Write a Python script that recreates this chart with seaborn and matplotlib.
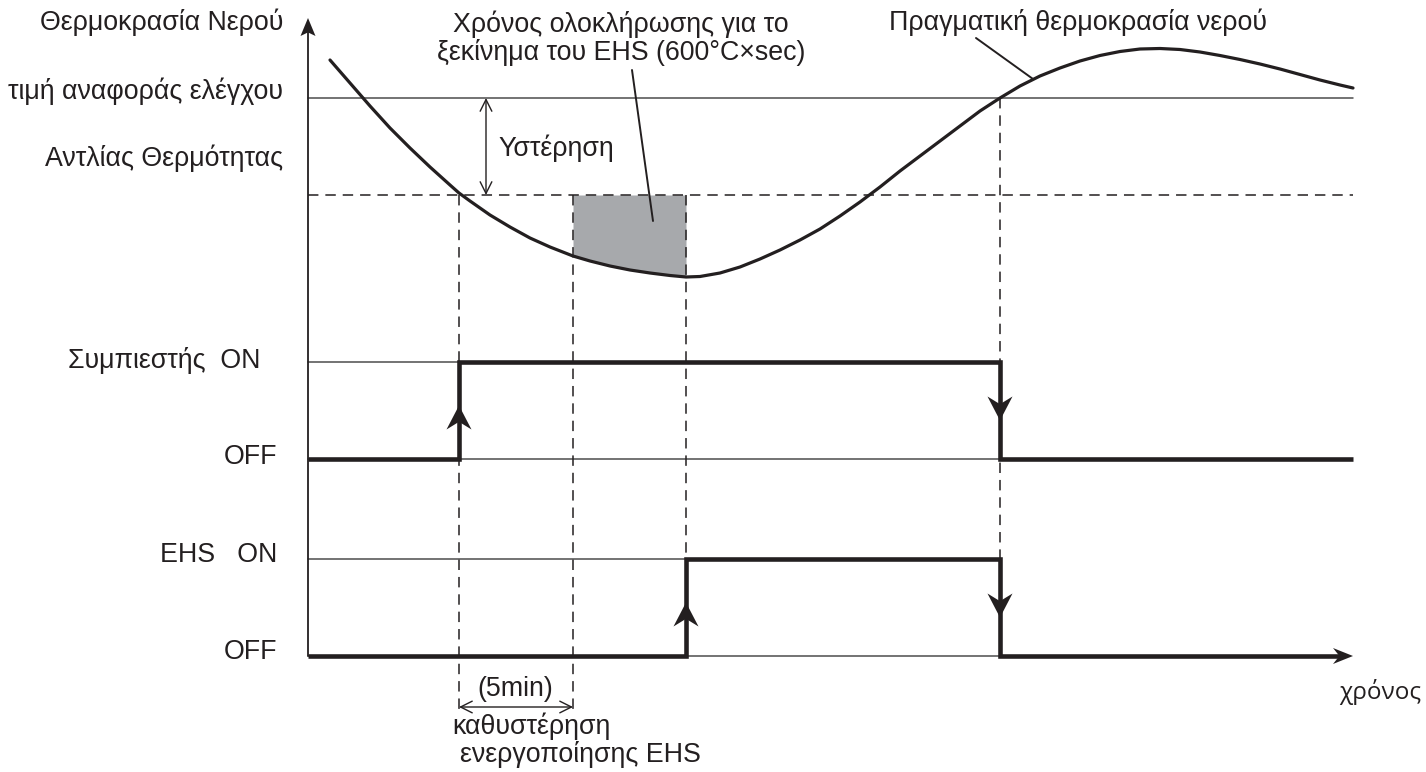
import numpy as np
import pandas as pd
import matplotlib
matplotlib.use("Agg")
import matplotlib.pyplot as plt
from matplotlib.patches import Polygon
import seaborn as sns

# ---------------------------------------------------------------
# Diagram data (drawing units: x = time position, y = vertical level,
# y grows downward)
# ---------------------------------------------------------------
# actual water temperature curve
curve_t = [330, 350, 370, 390, 410, 430, 450, 459, 470, 490, 510, 530, 550,
           573, 590, 610, 630, 650, 670, 686, 700, 720, 740, 760, 780, 800,
           820, 840, 860, 880, 900, 920, 940, 960, 980, 1000, 1020, 1040,
           1060, 1080, 1100, 1120, 1140, 1160, 1180, 1200, 1220, 1240, 1260,
           1280, 1300, 1320, 1340, 1353]
curve_temp = [60, 83, 106, 128, 148, 167, 185, 193, 201, 215, 227, 238, 247,
              256, 261, 266, 270, 273, 275.5, 277, 276.5, 273, 267, 259, 250,
              240, 229, 216, 202, 187, 171, 156, 141, 126, 111, 98, 86, 76,
              68, 61, 55.5, 51.5, 49, 48.5, 49.5, 52, 55.5, 59.5, 64, 69,
              74.5, 80, 85, 88]

axis_x = 308          # start of the time axis
axis_end = 1353       # end of the time axis
ref_level = 98        # heat pump control reference value
hyst_level = 195      # reference minus hysteresis

t_comp_on = 459       # compressor switches on
t_ehs_ready = 573     # end of the 5 min EHS delay
t_ehs_on = 686        # EHS switches on (600 °C·sec integral reached)
t_off = 1000          # both switch off

comp_levels = {"ON": 362, "OFF": 459}
ehs_levels = {"ON": 559, "OFF": 656}

comp_times = [axis_x, t_comp_on, t_off, axis_end]
comp_state = ["OFF", "ON", "OFF", "OFF"]
ehs_times = [axis_x, t_ehs_on, t_off, axis_end - 12]
ehs_state = ["OFF", "ON", "OFF", "OFF"]

left_labels = ["Θερμοκρασία Νερού", "τιμή αναφοράς ελέγχου", "Αντλίας Θερμότητας"]
left_label_y = [22, 91, 158]

# ---------------------------------------------------------------
sns.set_theme(style="white")
plt.rcParams["font.family"] = ["Liberation Sans", "DejaVu Sans"]
plt.rcParams["lines.scale_dashes"] = False

INK = "#231f20"
THIN = "#4d4d4d"
GREY_FILL = "#a7a9ac"
DASH = (0, (7.5, 5.0))
FS = 19.3

fig = plt.figure(figsize=(14.26, 7.72), dpi=100)
ax = fig.add_axes([0, 0, 1, 1])
ax.set_xlim(0, 1426)
ax.set_ylim(772, 0)
ax.axis("off")

curve = pd.DataFrame({"t": curve_t, "temp": curve_temp})

# shaded integral area between EHS delay end and EHS start
seg = curve[(curve.t >= t_ehs_ready) & (curve.t <= t_ehs_on)]
ax.fill_between(seg.t, hyst_level, seg.temp, color=GREY_FILL, lw=0, zorder=1)

# reference and hysteresis levels
ax.plot([axis_x, axis_end], [ref_level, ref_level], color=THIN, lw=1.1, zorder=2)
ax.plot([axis_x, axis_end], [hyst_level, hyst_level], color=INK, lw=1.1,
        ls=DASH, zorder=2)

# thin ON/OFF guide lines
ax.plot([axis_x, t_off], [comp_levels["ON"]] * 2, color=THIN, lw=1.1, zorder=2)
ax.plot([axis_x, t_off], [comp_levels["OFF"]] * 2, color=THIN, lw=1.1, zorder=2)
ax.plot([axis_x, t_ehs_on], [ehs_levels["ON"]] * 2, color=THIN, lw=1.1, zorder=2)
ax.plot([axis_x, t_off], [ehs_levels["OFF"]] * 2, color=THIN, lw=1.1, zorder=2)

# vertical dashed event markers
for t, y0, y1 in [(t_comp_on, hyst_level, 712), (t_ehs_ready, hyst_level, 712),
                  (t_ehs_on, hyst_level, ehs_levels["ON"]),
                  (t_off, ref_level, ehs_levels["ON"])]:
    ax.plot([t, t], [y0, y1], color=INK, lw=1.1, ls=DASH, zorder=2)

# water temperature curve
sns.lineplot(data=curve, x="t", y="temp", ax=ax, color=INK, lw=2.3,
             sort=False, estimator=None, zorder=4)

# compressor and EHS signals
comp = pd.DataFrame({"t": comp_times, "y": [comp_levels[s] for s in comp_state]})
ehs = pd.DataFrame({"t": ehs_times, "y": [ehs_levels[s] for s in ehs_state]})
for df in (comp, ehs):
    sns.lineplot(data=df, x="t", y="y", ax=ax, color=INK, lw=3.3,
                 sort=False, estimator=None, drawstyle="steps-post",
                 solid_joinstyle="miter", solid_capstyle="butt", zorder=5)


def arrow_head(x, tip, direction, length=24, width=25, notch=0.32):
    """Stealth-style arrowhead; direction = 'up', 'down' or 'right'."""
    if direction == "right":
        pts = [(tip, x), (tip - length, x - width / 2),
               (tip - length * (1 - notch), x), (tip - length, x + width / 2)]
    else:
        s = 1 if direction == "up" else -1
        pts = [(x, tip), (x - width / 2, tip + s * length),
               (x, tip + s * length * (1 - notch)), (x + width / 2, tip + s * length)]
    ax.add_patch(Polygon(pts, closed=True, color=INK, lw=0, zorder=6))


comp_mid = (comp_levels["ON"] + comp_levels["OFF"]) / 2
ehs_mid = (ehs_levels["ON"] + ehs_levels["OFF"]) / 2
arrow_head(t_comp_on, comp_mid - 5, "up")
arrow_head(t_off, comp_mid + 10, "down")
arrow_head(t_ehs_on, ehs_mid - 5, "up")
arrow_head(t_off, ehs_mid + 10, "down")
arrow_head(ehs_levels["OFF"], axis_end, "right", length=20, width=16)

# vertical temperature axis
ax.plot([axis_x, axis_x], [ehs_levels["OFF"], 30], color=INK, lw=1.3, zorder=3)
arrow_head(axis_x, 18, "up", length=18, width=15, notch=0.2)

# double-headed dimension arrows
dim = dict(arrowstyle="<->,head_length=0.7,head_width=0.35", color=INK, lw=1.0,
           shrinkA=0, shrinkB=0)
ax.annotate("", xy=(486, ref_level), xytext=(486, hyst_level), arrowprops=dim)
ax.annotate("", xy=(t_comp_on, 707), xytext=(t_ehs_ready, 707), arrowprops=dim)

# leader lines
ax.plot([632, 653], [70, 221], color=INK, lw=1.4, zorder=6)
ax.plot([976, 1033], [38, 79], color=INK, lw=1.4, zorder=6)

# labels
for txt, y in zip(left_labels, left_label_y):
    ax.text(283, y, txt, ha="right", va="center", fontsize=FS, color=INK)
ax.text(260, comp_levels["ON"] - 1, "Συμπιεστής  ON", ha="right", va="center",
        fontsize=FS, color=INK)
ax.text(277, comp_levels["OFF"] - 2, "OFF", ha="right", va="center", fontsize=FS, color=INK)
ax.text(277, ehs_levels["ON"] - 4, "EHS   ON", ha="right", va="center",
        fontsize=FS, color=INK)
ax.text(277, ehs_levels["OFF"] - 4, "OFF", ha="right", va="center", fontsize=FS, color=INK)

ax.text(621, 24, "Χρόνος ολοκλήρωσης για το", ha="center", va="center",
        fontsize=FS, color=INK)
ax.text(621, 52, "ξεκίνημα του EHS (600°C×sec)", ha="center", va="center",
        fontsize=FS, color=INK)
ax.text(498, 148, "Υστέρηση", ha="left", va="center", fontsize=FS, color=INK)
ax.text(1078, 22, "Πραγματική θερμοκρασία νερού", ha="center", va="center",
        fontsize=FS, color=INK)
ax.text(515, 689, "(5min)", ha="center", va="center", fontsize=FS, color=INK)
ax.text(452, 726, "καθυστέρηση", ha="left", va="center", fontsize=FS, color=INK)
ax.text(460, 755, "ενεργοποίησης EHS", ha="left", va="center", fontsize=FS, color=INK)
ax.text(1421, 692, "χρόνος", ha="right", va="center", fontsize=17.5, color=INK,
        family=["Open Sans", "DejaVu Sans"])

fig.savefig("out.png", dpi=100, facecolor="white")
